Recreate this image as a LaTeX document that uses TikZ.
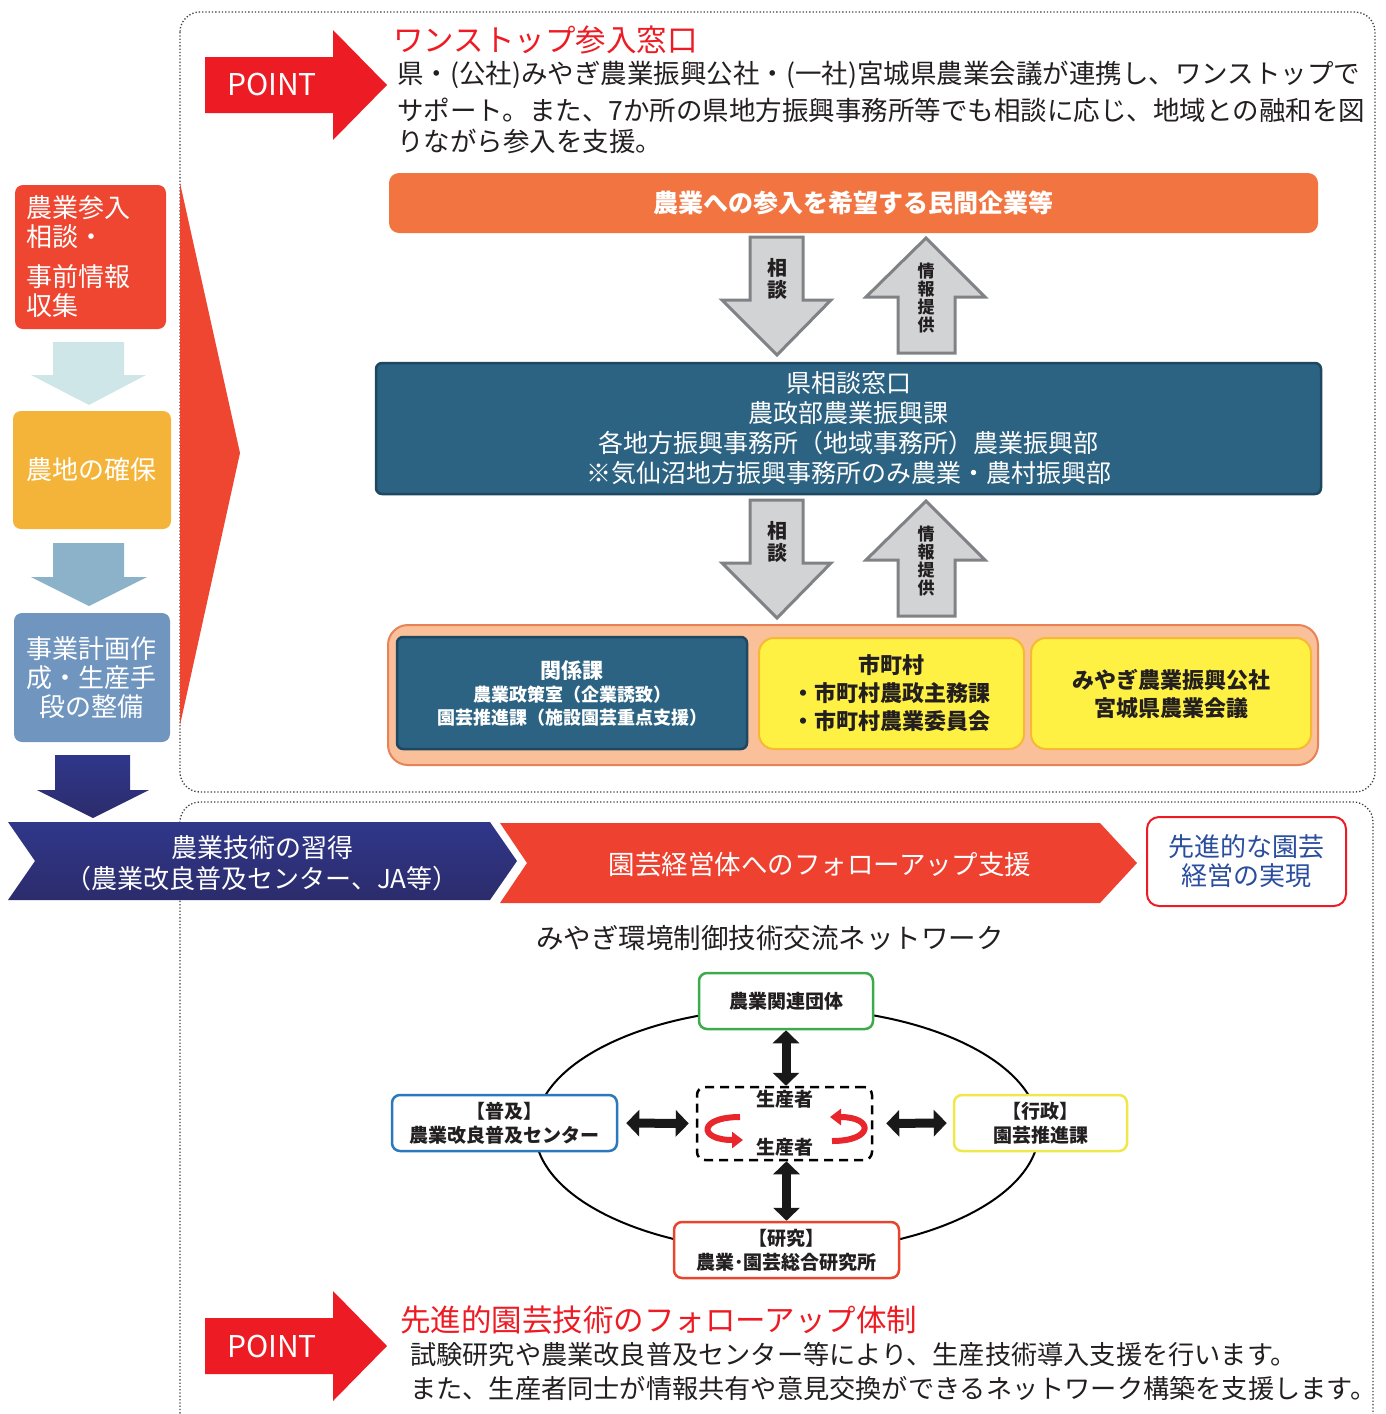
\documentclass[tikz,border=0pt]{standalone}
\usepackage{fontspec}
\setmainfont{Noto Sans CJK JP}
\usetikzlibrary{arrows.meta}

\definecolor{pointred}{HTML}{ED1C24}
\definecolor{steporange}{HTML}{EF4631}
\definecolor{stepyellow}{HTML}{F4B43A}
\definecolor{stepblue}{HTML}{7096C0}
\definecolor{arrowcyan}{HTML}{CFE6E9}
\definecolor{arrowsteel}{HTML}{8BB2C8}
\definecolor{navyblue}{HTML}{30378A}
\definecolor{navydark}{HTML}{2C2C6C}
\definecolor{boxorange}{HTML}{F27541}
\definecolor{boxteal}{HTML}{2C6383}
\definecolor{tealdark}{HTML}{1E4862}
\definecolor{salmon}{HTML}{F9C09A}
\definecolor{salmonline}{HTML}{E88358}
\definecolor{lemon}{HTML}{FFF144}
\definecolor{lemonline}{HTML}{F7B834}
\definecolor{grayfill}{HTML}{D1D3D4}
\definecolor{grayline}{HTML}{808285}
\definecolor{bannerred}{HTML}{EE4130}
\definecolor{textblue}{HTML}{2A4D9E}
\definecolor{netgreen}{HTML}{3DAA4B}
\definecolor{netblue}{HTML}{2B78BD}
\definecolor{netyellow}{HTML}{EEE84C}
\definecolor{netred}{HTML}{E8452E}
\definecolor{curlred}{HTML}{E8262B}
\definecolor{textgray}{HTML}{231F20}

\newcommand{\fsz}[2]{\fontsize{#1}{#2}\selectfont}

\begin{document}
\begin{tikzpicture}[x=1pt,y=-1pt,
    every node/.style={inner sep=0pt, text=textgray},
    pointtext/.style={font=\fsz{30}{36}, text=white},
    headtext/.style={font=\fsz{30.5}{36}, text=pointred, anchor=west},
    bodytext/.style={font=\fsz{26.5}{30}, anchor=west},
    flowbox/.style={rounded corners=8pt, text=white, font=\fsz{26}{29}, align=center},
    graytext/.style={font=\bfseries\fsz{20}{22}, align=center},
    tealbox/.style={fill=boxteal, draw=tealdark, line width=2.5pt, rounded corners=6pt, text=white, align=center},
    lemonbox/.style={fill=lemon, draw=lemonline, line width=2pt, rounded corners=15pt, align=center, font=\bfseries\fsz{22}{28}},
    netbox/.style={draw, fill=white, line width=2.5pt, rounded corners=8pt, align=center, font=\bfseries\fsz{19}{24}},
    dblarrow/.style={line width=9pt, black!90, {Triangle[length=13pt,width=26pt]}-{Triangle[length=13pt,width=26pt]}},
    curl/.style={line width=6pt, curlred, -{Triangle[length=11pt,width=16pt]}}
  ]
\useasboundingbox (0,0) rectangle (1386,1414);

% frames
\draw[dotted, line width=1.3pt, black!75, rounded corners=20pt] (180,12) rectangle (1375,792);
\draw[dotted, line width=1.3pt, black!75, rounded corners=20pt] (180,1430) -- (180,802) -- (1373,802) -- (1373,1430);

% POINT arrows
\foreach \py in {85,1346}
  \fill[pointred] (205,\py-28) -- (333,\py-28) -- (333,\py-55) -- (387,\py) -- (333,\py+55) -- (333,\py+28) -- (205,\py+28) -- cycle;
\node[pointtext] (point1) at (272,85) {POINT};
\node[pointtext] (point2) at (272,1346) {POINT};

\node[headtext] (onestop) at (393,40) {ワンストップ参入窓口};
\node[bodytext] (onestop1) at (397,75) {県・(公社)みやぎ農業振興公社・(一社)宮城県農業会議が連携し、ワンストップで};
\node[bodytext] (onestop2) at (397,110) {サポート。また、7か所の県地方振興事務所等でも相談に応じ、地域との融和を図};
\node[bodytext] (onestop3) at (397,141) {りながら参入を支援。};

% left column
\node[flowbox, fill=steporange, minimum width=151, minimum height=144, text width=127, align=left] (sanyu) at (90.5,257) {農業参入\\相談・\\[11pt]事前情報\\収集};
\fill[arrowcyan] (53,342) -- (124,342) -- (124,375) -- (146,375) -- (89,405) -- (31,375) -- (53,375) -- cycle;
\node[flowbox, fill=stepyellow, minimum width=158, minimum height=118] (nochi) at (92,470) {農地の確保};
\fill[arrowsteel] (53,543) -- (124,543) -- (124,577) -- (147,577) -- (89,606) -- (31,577) -- (53,577) -- cycle;
\node[flowbox, fill=stepblue, minimum width=156, minimum height=129] (keikaku) at (92,677.5) {事業計画作\\成・生産手\\段の整備};
\shade[top color=navyblue, bottom color=navydark] (55,755) -- (130,755) -- (130,790) -- (149,790) -- (93,818) -- (37,790) -- (55,790) -- cycle;
\fill[steporange] (180,183) -- (240,453) -- (180,725) -- cycle;

% consultation flow
\node[fill=boxorange, rounded corners=10pt, minimum width=929, minimum height=60, text=white, font=\bfseries\fsz{25}{28}] (kigyo) at (853.5,203) {農業への参入を希望する民間企業等};

\foreach \dy in {0,263} {
  \filldraw[fill=grayfill, draw=grayline, line width=3pt] (750,237+\dy) -- (803,237+\dy) -- (803,300+\dy) -- (831,300+\dy) -- (777,355+\dy) -- (722,300+\dy) -- (750,300+\dy) -- cycle;
  \filldraw[fill=grayfill, draw=grayline, line width=3pt] (926,238+\dy) -- (985,297+\dy) -- (955,297+\dy) -- (955,353+\dy) -- (898,353+\dy) -- (898,297+\dy) -- (866,297+\dy) -- cycle;
  \node[graytext] (sodan\dy) at (777,279+\dy) {相\\談};
  \node[graytext, font=\bfseries\fsz{17}{18}] (joho\dy) at (926,298+\dy) {情\\報\\提\\供};
}

\node[tealbox, minimum width=945, minimum height=131, font=\fsz{25}{30}] (madoguchi) at (848.5,428.5) {県相談窓口\\農政部農業振興課\\各地方振興事務所（地域事務所）農業振興部\\※気仙沼地方振興事務所のみ農業・農村振興部};

\node[fill=salmon, draw=salmonline, line width=2pt, rounded corners=20pt, minimum width=930, minimum height=140] (renkei) at (853,695) {};
\node[tealbox, minimum width=350, minimum height=112, font=\bfseries\fsz{18}{23}] (kankei) at (572,693) {{\fsz{21}{27}関係課}\\農業政策室（企業誘致）\\園芸推進課（施設園芸重点支援）};
\node[lemonbox, minimum width=265, minimum height=111] (shichoson) at (891.5,693.5) {市町村\\・市町村農政主務課\\・市町村農業委員会};
\node[lemonbox, minimum width=280, minimum height=111] (kosha) at (1171,693.5) {みやぎ農業振興公社\\宮城県農業会議};

% banners
\shade[top color=navyblue, bottom color=navydark] (8,822) -- (490,822) -- (517,861) -- (490,900) -- (8,900) -- (35,861) -- cycle;
\node[font=\fsz{26}{31}, text=white, align=center] (gijutsu) at (262,863) {農業技術の習得\\（農業改良普及センター、JA等）};
\fill[bannerred] (500,823) -- (1100,823) -- (1137,863) -- (1100,903) -- (500,903) -- (527,863) -- cycle;
\node[font=\fsz{26.5}{30}, text=white] (followup) at (820,865) {園芸経営体へのフォローアップ支援};
\node[draw=pointred, fill=white, line width=2pt, rounded corners=12pt, minimum width=199, minimum height=89, text=textblue, font=\fsz{26}{29}, align=center] (senshin) at (1246.5,861.5) {先進的な園芸\\経営の実現};

% network
\node[font=\fsz{27.5}{30}] (nettitle) at (770,938) {みやぎ環境制御技術交流ネットワーク};
\draw[line width=2pt] (787,1130) ellipse [x radius=252, y radius=122];
\node[netbox, draw=netgreen, minimum width=174, minimum height=56] (kanren) at (786,1001) {農業関連団体};
\node[netbox, draw=netblue, minimum width=225, minimum height=56] (fukyu) at (504.5,1123) {【普及】\\農業改良普及センター};
\node[netbox, draw=netyellow, minimum width=173, minimum height=56] (gyosei) at (1040.5,1123) {【行政】\\園芸推進課};
\node[netbox, draw=netred, minimum width=225, minimum height=56] (kenkyu) at (786.5,1250) {【研究】\\農業･園芸総合研究所};
\node[netbox, draw=black, dash pattern=on 9pt off 6pt, minimum width=175, minimum height=73] (seisansha) at (784.5,1123.5) {生産者\\[24pt]生産者};

\draw[dblarrow] (kanren.south) -- (kanren.south |- seisansha.north);
\draw[dblarrow] (kenkyu.north |- seisansha.south) -- (kenkyu.north);
\draw[dblarrow, shorten <=8pt, shorten >=7pt] (fukyu.east) -- (seisansha.west);
\draw[dblarrow, shorten <=13pt, shorten >=6pt] (seisansha.east) -- (gyosei.west);
\draw[curl] (740,1117) .. controls (698,1117) and (698,1140) .. (743,1140);
\draw[curl] (832,1141) .. controls (874,1141) and (874,1117) .. (830,1117);

\node[headtext] (taisei) at (400,1320) {先進的園芸技術のフォローアップ体制};
\node[bodytext, font=\fsz{26.2}{30}] (taisei1) at (410,1355) {試験研究や農業改良普及センター等により、生産技術導入支援を行います。};
\node[bodytext, font=\fsz{26.2}{30}] (taisei2) at (410,1388) {また、生産者同士が情報共有や意見交換ができるネットワーク構築を支援します。};
\end{tikzpicture}
\end{document}
